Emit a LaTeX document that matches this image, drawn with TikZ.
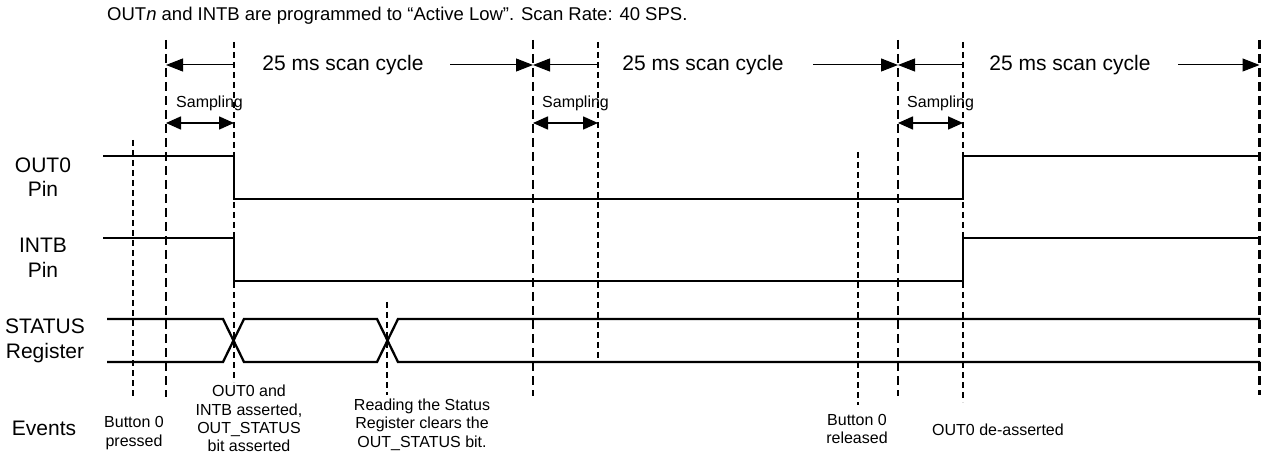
\documentclass[tikz,border=0pt]{standalone}
\usepackage{fontspec}
\setmainfont{Liberation Sans}
\usetikzlibrary{arrows.meta}
\tikzset{
  sig/.style={line width=2.3pt, line join=miter},
  thickdash/.style={line width=2.8pt, dash pattern=on 9pt off 5pt},
  thindash/.style={line width=1.4pt, dash pattern=on 6pt off 4pt},
  big/.style={font=\fontsize{21}{24.5}\selectfont, align=center, inner sep=0pt},
  small/.style={font=\fontsize{16}{18.4}\selectfont, align=center, inner sep=0pt},
  cyclearrow/.style={line width=1pt, -{Triangle[length=17pt,width=13pt]}},
  samparrow/.style={line width=1.6pt, {Triangle[length=15pt,width=13pt]}-{Triangle[length=15pt,width=13pt]}},
}
\begin{document}
\begin{tikzpicture}[x=1pt,y=-1pt]
\useasboundingbox (0,0) rectangle (1261,454);

% title
\node[font=\fontsize{18.5}{21}\selectfont, anchor=base west, inner sep=0pt] (title) at (107,21)
  {OUT\textit{n} and INTB are programmed to “Active Low”. Scan Rate: 40 SPS.};

% row labels
\node[big] (lout) at (43,177) {OUT0\\Pin};
\node[big] (lint) at (43,258) {INTB\\Pin};
\node[big] (lstat) at (45,341) {STATUS\\Register};
\node[big] (lev) at (44,428) {Events};

% cycle boundaries (thick dashed)
\foreach \n/\x/\b in {a/166/397, b/533/396, c/898/396, d/1259.5/395}{
  \coordinate (T\n) at (\x,40);
  \coordinate (B\n) at (\x,\b);
  \draw[thickdash] (T\n) -- (B\n);
}
% sampling ends (thin dashed)
\foreach \n/\x/\b in {a/234/382, b/598/362, c/963/402}{
  \coordinate (S\n) at (\x,42);
  \coordinate (E\n) at (\x,\b);
  \draw[thindash] (S\n) -- (E\n);
}
% event markers (thin dashed)
\coordinate (p1) at (133,140); \coordinate (p2) at (133,397);
\draw[thindash] (p1) -- (p2);
\coordinate (r1) at (387,302); \coordinate (r2) at (387,395);
\draw[thindash] (r1) -- (r2);
\coordinate (q1) at (858,152); \coordinate (q2) at (858,405);
\draw[thindash] (q1) -- (q2);

% scan cycle arrows
\foreach \n/\m/\xs/\xe/\xt in {a/b/234/450/343, b/c/598/813/703, c/d/963/1178/1070}{
  \coordinate (L\n) at (\xs,65);
  \coordinate (H\n) at (\xe,65);
  \draw[cyclearrow] (L\n) -- (T\n |- L\n);
  \draw[cyclearrow] (H\n) -- (T\m |- H\n);
  \node[font=\fontsize{21}{24}\selectfont, inner sep=0pt] (cyc\n) at (\xt,65) {25 ms scan cycle};
}
% sampling arrows
\foreach \n/\xs in {a/176, b/542, c/907}{
  \node[font=\fontsize{16}{18}\selectfont, anchor=base west, inner sep=0pt] (smp\n) at (\xs,108) {Sampling};
  \coordinate (sa\n) at (T\n |- 0,123);
  \coordinate (sb\n) at (S\n |- 0,123);
  \draw[samparrow] (sa\n) -- (sb\n);
}

% OUT0 signal
\draw[sig] (103,156) -- (234,156) -- (234,199) -- (963,199) -- (963,156) -- (1260,156);
% INTB signal
\draw[sig] (103,238) -- (234,238) -- (234,281) -- (963,281) -- (963,238) -- (1260,238);
% STATUS register
\draw[sig] (107,319) -- (223,319) -- (244,362) -- (377,362) -- (398,319) -- (1260,319);
\draw[sig] (107,362) -- (223,362) -- (244,319) -- (377,319) -- (398,362) -- (1260,362);

% events
\node[small] (ev1) at (134,433) {Button 0\\pressed};
\node[small] (ev2) at (249,418.5) {OUT0 and\\INTB asserted,\\OUT\_STATUS\\bit asserted};
\node[small] (ev3) at (422,424.5) {Reading the Status\\Register clears the\\OUT\_STATUS bit.};
\node[small] (ev4) at (857,429) {Button 0\\released};
\node[small] (ev5) at (998,430) {OUT0 de-asserted};
\end{tikzpicture}
\end{document}
